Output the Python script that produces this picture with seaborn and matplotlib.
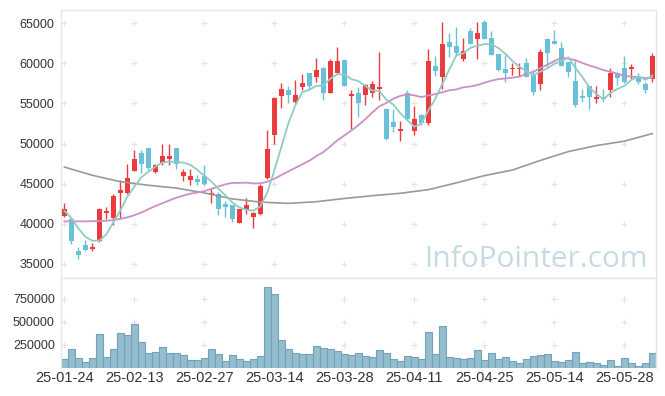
import numpy as np
import pandas as pd
import matplotlib
matplotlib.use('Agg')
import matplotlib.pyplot as plt
import seaborn as sns

# trading days (KRX holidays removed)
holidays = ['2025-01-27', '2025-01-28', '2025-01-29', '2025-01-30',
            '2025-03-03', '2025-05-01', '2025-05-05', '2025-05-06', '2025-06-03']
days = pd.bdate_range('2025-01-24', '2025-06-04')
days = days[~days.isin(pd.to_datetime(holidays))]

opens = [40950, 40650, 36650, 37300, 36900, 37800, 41300, 40750, 43850, 43800,
         46550, 48800, 49400, 46450, 47600, 48050, 49500, 45900, 45450, 45550,
         45900, 43700, 43650, 42450, 42400, 40050, 41750, 40800, 41200, 45700,
         51050, 55950, 56650, 55200, 57050, 58800, 58300, 59400, 56300, 58800,
         60400, 55950, 56300, 56050, 56250, 56800, 54300, 52650, 51600, 56300,
         51550, 53600, 52500, 59650, 58300, 62650, 62150, 60550, 64050, 63000,
         65100, 63100, 61150, 59250, 59250, 59250, 60100, 58600, 57400, 63050,
         62800, 61900, 60150, 57800, 55900, 57200, 55550, 55800, 56700, 58750,
         59400, 59300, 58250, 57400, 58000]
highs = [42600, 40800, 37150, 38000, 37550, 41950, 42100, 43700, 45500, 47500,
         49250, 49250, 49400, 47400, 50000, 49900, 49500, 46850, 46850, 46100,
         47300, 44400, 43900, 42800, 42400, 41900, 43150, 41500, 44900, 51650,
         55850, 57500, 57150, 57900, 58650, 58800, 60700, 59600, 60550, 62000,
         60550, 56650, 57000, 57400, 57800, 61400, 54400, 54300, 52750, 56650,
         54700, 53700, 61750, 60900, 65100, 63800, 64500, 63100, 64400, 65200,
         65400, 64000, 61150, 61100, 60100, 60100, 60700, 59150, 61750, 63150,
         64150, 62600, 60150, 60600, 56750, 57200, 57200, 56800, 59400, 58950,
         60900, 59900, 58800, 57700, 61250]
lows = [40900, 37500, 35600, 36650, 36600, 37700, 40550, 39800, 40600, 43750,
        46550, 46300, 46650, 46300, 47350, 47350, 46850, 45300, 44800, 44850,
        44800, 42600, 41050, 40900, 40200, 40050, 41250, 39500, 41050, 45550,
        50000, 54400, 55050, 55050, 56650, 56650, 57700, 55400, 56300, 58800,
        57150, 51800, 53250, 54800, 55750, 55400, 50500, 51450, 50300, 52900,
        51100, 52300, 52300, 58400, 56800, 60800, 60900, 60300, 62450, 60500,
        63050, 61100, 59050, 57650, 58550, 58400, 58300, 56100, 56650, 59600,
        62400, 59700, 58300, 54500, 55200, 54250, 55100, 55150, 55750, 57250,
        57500, 58000, 57400, 56250, 57700]
closes = [41800, 37800, 36100, 36700, 37050, 41800, 41650, 43400, 44200, 45650,
          48050, 47500, 46950, 47300, 48400, 48500, 47500, 46400, 46000, 45200,
          44950, 43850, 41850, 42050, 40600, 41900, 42300, 41300, 44650, 49300,
          55650, 56750, 56050, 56000, 57550, 57200, 59150, 56250, 60300, 60300,
          57150, 56150, 55050, 57250, 57400, 57050, 50550, 52050, 51800, 53050,
          53050, 52500, 60300, 59050, 62400, 62050, 61250, 61500, 62450, 63750,
          63050, 61100, 59200, 58800, 59400, 59400, 58300, 56450, 61400, 61300,
          62400, 59700, 58900, 54800, 55650, 55750, 55800, 55550, 58800, 58150,
          57700, 59500, 57700, 56700, 60900]
volumes = [94000, 203000, 105000, 62000, 105000, 366000, 116000, 203000, 377000, 355000,
           475000, 279000, 159000, 170000, 225000, 159000, 159000, 138000, 83000, 83000,
           105000, 203000, 149000, 72000, 138000, 94000, 72000, 94000, 127000, 877000,
           801000, 301000, 203000, 159000, 149000, 149000, 236000, 214000, 203000, 181000,
           149000, 138000, 159000, 127000, 116000, 192000, 159000, 94000, 72000, 127000,
           116000, 94000, 388000, 149000, 453000, 116000, 105000, 94000, 105000, 192000,
           83000, 159000, 94000, 116000, 72000, 51000, 94000, 127000, 138000, 149000,
           72000, 62000, 83000, 170000, 51000, 62000, 51000, 29000, 83000, 18000,
           105000, 51000, 18000, 51000, 159000]

# moving-average values before enough closes are on screen
ma5_start = [41650, 40750, 39450, 38400]
ma20_start = [40300, 40300, 40300, 40300, 40320, 40340, 40380, 40450, 40600, 40800,
              41050, 41400, 41800, 42200, 42550, 42900, 43250, 43500, 43750]
# long moving average, read every 4th trading day
ma_long_step = 4
ma_long = [47075, 46050, 45250, 44800, 44450, 43850, 43100, 42700, 42540, 42750,
           43150, 43500, 43800, 44250, 45100, 46000, 46700, 47900, 49000, 49750,
           50300, 51250]

up_color = '#ec3b3e'
down_color = '#68c1d8'
grid_color = '#e2e2e2'
text_color = '#333333'

df = pd.DataFrame({'open': opens, 'high': highs, 'low': lows,
                   'close': closes, 'volume': volumes})
df['x'] = np.arange(len(df))
df['ma5'] = df['close'].rolling(5).mean()
df.loc[:len(ma5_start) - 1, 'ma5'] = ma5_start
df['ma20'] = df['close'].rolling(20).mean()
df.loc[:len(ma20_start) - 1, 'ma20'] = ma20_start
long_df = pd.DataFrame({'x': np.arange(0, len(df), ma_long_step), 'ma': ma_long})

sns.set_theme(style='white')
plt.rcParams['font.family'] = ['Liberation Sans', 'DejaVu Sans']

fig = plt.figure(figsize=(6.65, 3.96), dpi=100)
ax = fig.add_axes([61 / 665, 1 - 277.5 / 396, 595 / 665, 267.5 / 396])
axv = fig.add_axes([61 / 665, 1 - 368 / 396, 595 / 665, 90.5 / 396])

# candles
up = df['close'] >= df['open']
colors = np.where(up, up_color, down_color)
ax.vlines(df['x'], df['low'], df['high'], colors=colors, linewidth=1.0, zorder=2)
body_lo = np.minimum(df['open'], df['close'])
body_h = np.maximum((df['close'] - df['open']).abs(), 120)
ax.bar(df['x'], body_h, bottom=body_lo, width=0.72, color=colors, linewidth=0, zorder=3)

# moving averages
sns.lineplot(data=long_df, x='x', y='ma', color='#999999', linewidth=1.2, ax=ax, zorder=4)
sns.lineplot(data=df, x='x', y='ma20', color='#cc8fc8', linewidth=1.3, ax=ax, zorder=4)
sns.lineplot(data=df, x='x', y='ma5', color='#8ecdc4', linewidth=1.3, ax=ax, zorder=5)

# volume
sns.barplot(data=df, x='x', y='volume', native_scale=True, color='#95bdd0',
            edgecolor='#72a2b8', linewidth=0.8, width=1.0, saturation=1,
            errorbar=None, ax=axv, zorder=2)

xticks = list(range(0, len(df), 10))
price_ticks = list(range(35000, 65001, 5000))
vol_ticks = [250000, 500000, 750000]

# grid drawn as small crosses
for a, yt in ((ax, price_ticks), (axv, vol_ticks)):
    gx, gy = np.meshgrid(xticks, yt)
    a.plot(gx.ravel(), gy.ravel(), linestyle='none', marker='+', markersize=5,
           markeredgewidth=0.8, color=grid_color, zorder=1)

ax.set_xlim(-0.45, 84.5)
axv.set_xlim(-0.45, 84.5)
ax.set_ylim(33300, 66650)
axv.set_ylim(0, 980000)

ax.set_yticks(price_ticks)
ax.set_yticklabels([str(v) for v in price_ticks])
ax.set_xticks([])
axv.set_yticks(vol_ticks)
axv.set_yticklabels([str(v) for v in vol_ticks])
axv.set_xticks(xticks)
axv.set_xticklabels([days[i].strftime('%y-%m-%d') for i in xticks])

for a in (ax, axv):
    a.set_xlabel('')
    a.set_ylabel('')
    a.tick_params(axis='both', length=0, colors=text_color)
    a.tick_params(axis='y', labelsize=9, pad=4.5)
    for s in a.spines.values():
        s.set_color('#e6e6e6')
        s.set_linewidth(1.0)
axv.tick_params(axis='x', labelsize=10.5, pad=2.5)
axv.spines['bottom'].set_visible(False)

ax.text(0.985, 0.038, 'InfoPointer.com', transform=ax.transAxes, ha='right',
        va='baseline', fontsize=21.5, color='#c6dae4', family='Open Sans', zorder=0)

fig.savefig('out.png', dpi=100, facecolor='white')
